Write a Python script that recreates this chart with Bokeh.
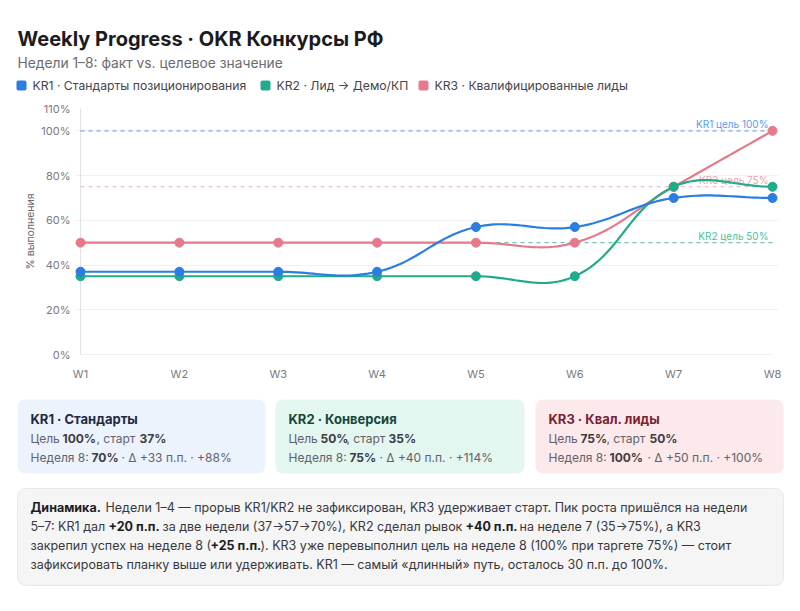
import math

from bokeh.core.properties import value
from bokeh.embed import file_html
from bokeh.layouts import column
from bokeh.models import BoxAnnotation, FixedTicker, PrintfTickFormatter, Range1d
from bokeh.plotting import figure
from bokeh.resources import INLINE

# ---------------------------------------------------------------- data
weeks = ["W1", "W2", "W3", "W4", "W5", "W6", "W7", "W8"]
kr1 = [37, 37, 37, 37, 57, 57, 70, 70]
kr2 = [35, 35, 35, 35, 35, 35, 75, 75]
kr3 = [50, 50, 50, 50, 50, 50, 75, 100]
series_names = [
    "KR1 · Стандарты позиционирования",
    "KR2 · Лид → Демо/КП",
    "KR3 · Квалифицированные лиды",
]
targets = [100, 50, 75]
target_labels = ["KR1 цель 100%", "KR2 цель 50%", "KR3 цель 75%"]
y_ticks = [0, 20, 40, 60, 80, 100, 110]

# ---------------------------------------------------------------- style
FONT = "Inter"
colors = ["#2a7de1", "#22ab8b", "#e8788b"]
target_colors = ["#5b9be3", "#4cbf9f", "#e9a2ad"]
W = 800
HEAD_H, CHART_H, FOOT_H = 100, 285, 226
X_LEFT, X_RIGHT = 80, 772           # pixel columns of the first and last week
FRAME_TOP, FRAME_BOTTOM = 108, 354  # pixel rows of 110% and 0%
PAD = 6                             # room so edge markers are not clipped

x_px = (X_RIGHT - X_LEFT) / (len(weeks) - 1)
y_px = (FRAME_BOTTOM - FRAME_TOP) / y_ticks[-1]
pad = PAD / x_px


def smooth(xs, ys, tension=0.4, steps=24):
    """Cardinal-style bezier through the points (computed in pixel space)."""
    pts = [(x * x_px, y * y_px) for x, y in zip(xs, ys)]
    n = len(pts)
    cp_in, cp_out = [], []
    for i in range(n):
        px, py = pts[i - 1] if i > 0 else pts[i]
        cx, cy = pts[i]
        nx, ny = pts[i + 1] if i < n - 1 else pts[i]
        d01 = math.hypot(cx - px, cy - py)
        d12 = math.hypot(nx - cx, ny - cy)
        tot = d01 + d12
        s01 = d01 / tot if tot else 0
        s12 = d12 / tot if tot else 0
        fa, fb = tension * s01, tension * s12
        cp_in.append((cx - fa * (nx - px), cy - fa * (ny - py)))
        cp_out.append((cx + fb * (nx - px), cy + fb * (ny - py)))
    out_x, out_y = [pts[0][0] / x_px], [pts[0][1] / y_px]
    for i in range(n - 1):
        p0, p1, p2, p3 = pts[i], cp_out[i], cp_in[i + 1], pts[i + 1]
        for k in range(1, steps + 1):
            t = k / steps
            a, b, c, d = (1 - t) ** 3, 3 * (1 - t) ** 2 * t, 3 * (1 - t) * t ** 2, t ** 3
            out_x.append((a * p0[0] + b * p1[0] + c * p2[0] + d * p3[0]) / x_px)
            out_y.append((a * p0[1] + b * p1[1] + c * p2[1] + d * p3[1]) / y_px)
    return out_x, out_y


def style_canvas(f):
    f.outline_line_color = None
    f.background_fill_color = "white"
    f.border_fill_color = "white"
    try:
        f.frame_align = False   # keep each panel's own frame, no cross-panel alignment
    except AttributeError:
        pass


class Panel:
    """A plain figure whose frame is the whole canvas, addressed in page pixels."""

    def __init__(self, height, top):
        self.h, self.top = height, top
        self.f = figure(width=W, height=height, x_range=Range1d(0, W), y_range=Range1d(0, height),
                        output_backend="svg", toolbar_location=None, min_border=0,
                        x_axis_type=None, y_axis_type=None)
        self.f.grid.visible = False
        style_canvas(self.f)

    def y(self, py):
        return self.h - (py - self.top)

    def text(self, px, py, text, size="12.5px", bold=False, color="#333333"):
        self.f.text(x=[px], y=[self.y(py)], text=[text], text_font=value(FONT),
                    text_font_size=value(size), text_font_style="bold" if bold else "normal",
                    text_color=color, text_baseline="middle", text_align="left")

    def box(self, left, right, top, bottom, fill, line=None, radius=8):
        self.f.add_layout(BoxAnnotation(left=left, right=right, top=self.y(top), bottom=self.y(bottom),
                                        fill_color=fill, fill_alpha=1,
                                        line_color=line, line_alpha=1 if line else 0, line_width=1,
                                        border_radius=radius, level="underlay"))


# ---------------------------------------------------------------- header
head = Panel(HEAD_H, 0)
head.text(17, 38, "Weekly Progress · OKR Конкурсы РФ", size="20px", bold=True, color="#1b1b1f")
head.text(17, 62, "Недели 1–8: факт vs. целевое значение", size="13.8px", color="#6b6b70")
legend_x = [16, 260, 418]
for lx, name, c in zip(legend_x, series_names, colors):
    head.box(lx, lx + 10, 80, 90, c, radius=2)
    head.text(lx + 16, 85, name, size="12.2px", color="#45454a")

# ---------------------------------------------------------------- chart
chart = figure(width=W, height=CHART_H,
               x_range=Range1d(-pad, len(weeks) - 1 + pad), y_range=Range1d(0, y_ticks[-1]),
               output_backend="svg", toolbar_location=None,
               min_border_left=X_LEFT - PAD, min_border_right=W - X_RIGHT - PAD,
               min_border_top=FRAME_TOP - HEAD_H, min_border_bottom=HEAD_H + CHART_H - FRAME_BOTTOM)
style_canvas(chart)

chart.yaxis.ticker = FixedTicker(ticks=y_ticks)
chart.yaxis.formatter = PrintfTickFormatter(format="%d%%")
chart.yaxis.axis_line_color = None
chart.yaxis.major_tick_line_color = None
chart.yaxis.minor_tick_line_color = None
chart.yaxis.major_tick_out = 0
chart.yaxis.major_label_standoff = 4
chart.yaxis.major_label_text_font = FONT
chart.yaxis.major_label_text_font_size = "11px"
chart.yaxis.major_label_text_color = "#7a7a80"
chart.yaxis.axis_label = "% выполнения"
chart.yaxis.axis_label_text_font = FONT
chart.yaxis.axis_label_text_font_size = "10.5px"
chart.yaxis.axis_label_text_font_style = "normal"
chart.yaxis.axis_label_text_color = "#6b6b70"
chart.yaxis.axis_label_standoff = 1

chart.xaxis.ticker = FixedTicker(ticks=list(range(len(weeks))))
chart.xaxis.major_label_overrides = {i: w for i, w in enumerate(weeks)}
chart.xaxis.axis_line_color = None
chart.xaxis.major_tick_line_color = None
chart.xaxis.minor_tick_line_color = None
chart.xaxis.major_tick_out = 0
chart.xaxis.major_label_standoff = 12
chart.xaxis.major_label_text_font = FONT
chart.xaxis.major_label_text_font_size = "11px"
chart.xaxis.major_label_text_color = "#7a7a80"

chart.xgrid.grid_line_color = None
chart.ygrid.ticker = FixedTicker(ticks=y_ticks)
chart.ygrid.grid_line_color = "#f1f1f3"

# axis lines along the data extent
last = len(weeks) - 1
chart.segment(x0=[0, 0], y0=[0, 0], x1=[0, last], y1=[y_ticks[-1], 0],
              line_color="#e2e2e6", line_width=1)

# target reference lines with their captions
chart.segment(x0=[0] * 3, x1=[last] * 3, y0=targets, y1=targets, line_color=target_colors,
              line_dash="4 4", line_width=1.2, line_alpha=0.85)
chart.text(x=[last] * 3, y=targets, text=target_labels,
           text_color=target_colors, text_font=value(FONT), text_font_size=value("10px"),
           text_align="right", text_baseline="bottom", x_offset=-4, y_offset=-1)

# weekly series, KR1 painted last so it sits on top
xs = list(range(len(weeks)))
for vals, c in reversed(list(zip([kr1, kr2, kr3], colors))):
    lx, ly = smooth(xs, vals)
    chart.line(lx, ly, line_color=c, line_width=2.2)
    chart.scatter(xs, vals, size=9, fill_color=c, line_color=c)

# ---------------------------------------------------------------- footer
foot = Panel(FOOT_H, HEAD_H + CHART_H)
cards = [
    (17, 265, "#edf3fd", "#1e2a42"),
    (275, 524, "#e3f6f0", "#17463b"),
    (535, 783, "#fce9eb", "#7a2236"),
]
card_text = [
    ("KR1 · Стандарты",
     [("Цель", 0, False), ("100%", 32, True), (", старт", 66, False), ("37%", 109, True)],
     [("Неделя 8:", 0, False), ("70%", 61, True), ("· Δ +33 п.п. · +88%", 91, False)]),
    ("KR2 · Конверсия",
     [("Цель", 0, False), ("50%", 32, True), (", старт", 58, False), ("35%", 100, True)],
     [("Неделя 8:", 0, False), ("75%", 61, True), ("· Δ +40 п.п. · +114%", 91, False)]),
    ("KR3 · Квал. лиды",
     [("Цель", 0, False), ("75%", 32, True), (", старт", 58, False), ("50%", 101, True)],
     [("Неделя 8:", 0, False), ("100%", 61, True), ("· Δ +50 п.п. · +100%", 99, False)]),
]
for (l, r, bg, tc), (title, line2, line3) in zip(cards, card_text):
    foot.box(l, r, 399, 473, bg)
    x0 = l + 13
    foot.text(x0, 418, title, size="13px", bold=True, color=tc)
    for row_y, row in ((438, line2), (457, line3)):
        for txt, off, b in row:
            foot.text(x0 + off, row_y, txt, size="12px", bold=b,
                      color="#3d3d42" if b else "#626268")

foot.box(17, 783, 488, 585, "#f5f5f6", line="#e9e9ec")
summary = [
    (507, [("Динамика.", 30, True),
           ("Недели 1–4 — прорыв KR1/KR2 не зафиксирован, KR3 удерживает старт. Пик роста пришёлся на недели", 105, False)]),
    (526, [("5–7: KR1 дал", 30, False), ("+20 п.п.", 108, True),
           ("за две недели (37→57→70%), KR2 сделал рывок", 162, False), ("+40 п.п.", 465, True),
           ("на неделе 7 (35→75%), а KR3", 519, False)]),
    (545, [("закрепил успех на неделе 8 (", 30, False), ("+25 п.п.", 210, True),
           ("). KR3 уже перевыполнил цель на неделе 8 (100% при таргете 75%) — стоит", 260, False)]),
    (564, [("зафиксировать планку выше или удерживать. KR1 — самый «длинный» путь, осталось 30 п.п. до 100%.", 30, False)]),
]
for row_y, row in summary:
    for txt, x, b in row:
        foot.text(x, row_y, txt, size="12.5px", bold=b, color="#1c1c20" if b else "#38383d")

page = column(head.f, chart, foot.f, spacing=0)
open("out.html", "w").write(file_html(page, INLINE))
